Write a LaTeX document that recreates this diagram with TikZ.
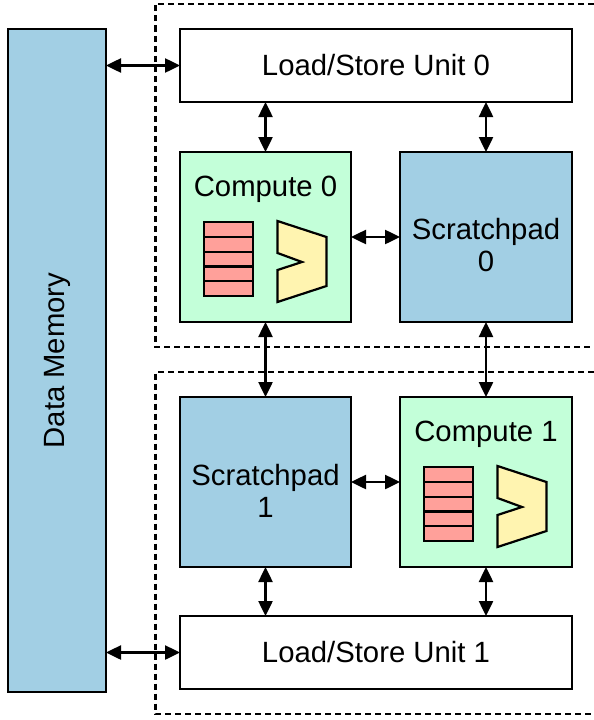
\documentclass[tikz,border=0pt]{standalone}
\usepackage{fontspec}
\setmainfont{Liberation Sans}
\usetikzlibrary{arrows.meta}
\definecolor{memblue}{HTML}{A2CFE4}
\definecolor{compgreen}{HTML}{C3FFD9}
\definecolor{regred}{HTML}{FFA09A}
\definecolor{aluyellow}{HTML}{FFF4B0}
\tikzset{
  blockbox/.style={draw=black,line width=2.5pt,inner sep=0pt,outer sep=0pt,align=center,
    font=\fontsize{29.3}{32}\selectfont},
  membox/.style={blockbox,fill=memblue},
  compbox/.style={blockbox,fill=compgreen},
  lsbox/.style={blockbox,fill=white},
  link/.style={line width=2.5pt,{Triangle[length=15pt,width=14pt]}-{Triangle[length=15pt,width=14pt]}},
  region/.style={line width=2.5pt,dash pattern=on 6pt off 4pt},
  regpart/.style={draw=black,line width=2.2pt,fill=regred},
  alupart/.style={draw=black,line width=2.2pt,fill=aluyellow,line join=miter},
  toplabel/.style={font=\fontsize{29.3}{32}\selectfont,inner sep=0pt,align=center}
}
\begin{document}
\begin{tikzpicture}[x=1pt,y=-1pt]
\useasboundingbox (0,0) rectangle (594,720);
\begin{scope}
\clip (0,0) rectangle (594,720);
% dashed regions
\draw[region] (594,4) -- (155.5,4) -- (155.5,347) -- (600,347);
\draw[region] (594,372) -- (155.5,372) -- (155.5,714) -- (600,714);
\end{scope}
% blocks
\node[membox,minimum width=98pt,minimum height=663pt] (dm) at (57,360.5) {\rotatebox{90}{Data Memory}};
\node[lsbox,minimum width=392pt,minimum height=73pt] (ls0) at (376,65.5) {Load/Store Unit 0};
\node[compbox,minimum width=171pt,minimum height=170pt] (c0) at (265.5,237) {};
\node[membox,minimum width=172pt,minimum height=170pt] (sp0) at (486,237) {};
\node[membox,minimum width=171pt,minimum height=170pt] (sp1) at (265.5,482) {};
\node[compbox,minimum width=172pt,minimum height=170pt] (c1) at (486,482) {};
\node[lsbox,minimum width=392pt,minimum height=73pt] (ls1) at (376,652.5) {Load/Store Unit 1};
\node[toplabel] (c0t) at (265.5,189.5) {Compute 0};
\node[toplabel] (c1t) at (486,434.5) {Compute 1};
\node[toplabel] (sp0t) at (486,245.5) {Scratchpad\\0};
\node[toplabel] (sp1t) at (265.5,490.5) {Scratchpad\\1};
% internals of compute blocks
\foreach \dx/\dy in {0/0,220/245}{
  \begin{scope}[shift={(\dx pt,-\dy pt)}]
    \draw[regpart] (204,222) rectangle (253,296);
    \draw[draw=black,line width=2.2pt] (204,237) -- (253,237) (204,252) -- (253,252)
      (204,266.5) -- (253,266.5) (204,281) -- (253,281);
    \draw[alupart] (277.5,221) -- (326.5,237) -- (326.5,286) -- (277.5,302) -- (277.5,270)
      -- (302,262) -- (277.5,253) -- cycle;
  \end{scope}
}
% connectors
\draw[link] (dm.east |- ls0.west) -- (ls0.west);
\draw[link] (dm.east |- ls1.west) -- (ls1.west);
\draw[link] (c0.north |- ls0.south) -- (c0.north);
\draw[link] (sp0.north |- ls0.south) -- (sp0.north);
\draw[link] (c0.east) -- (sp0.west);
\draw[link] (c0.south) -- (sp1.north);
\draw[link] (sp0.south) -- (c1.north);
\draw[link] (sp1.east) -- (c1.west);
\draw[link] (sp1.south) -- (sp1.south |- ls1.north);
\draw[link] (c1.south) -- (c1.south |- ls1.north);
\end{tikzpicture}
\end{document}
